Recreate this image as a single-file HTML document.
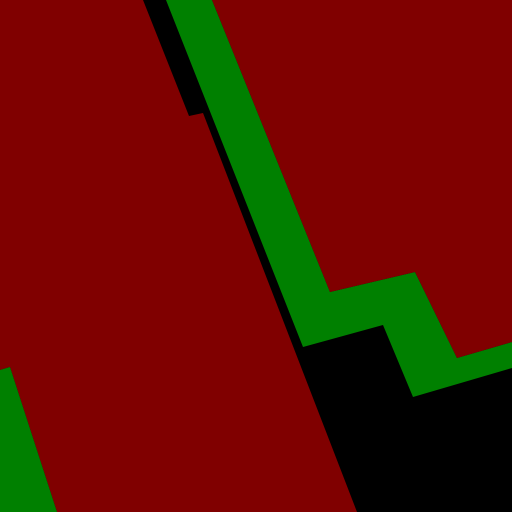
<!DOCTYPE html>
<html>
<head>
<meta charset="utf-8">
<style>
html,body{margin:0;padding:0;background:#000;width:512px;height:512px;overflow:hidden}
svg{display:block}
</style>
</head>
<body>
<svg width="512" height="512" viewBox="0 0 512 512" xmlns="http://www.w3.org/2000/svg">
  <rect x="0" y="0" width="512" height="512" fill="#000000"/>
  <polygon fill="#800000"
    points="0,0 143,0 189,116 203,113 357,512 57,512 10,367 0,370"/>
  <polygon fill="#008000"
    points="0,370 10,367 57,512 0,512"/>
  <polygon fill="#008000"
    points="166,0 212,0 330,292 415,272 457,358 512,342 512,368 413,397 383,325 303,347"/>
  <polygon fill="#800000"
    points="212,0 512,0 512,342 457,358 415,272 330,292"/>
</svg>
</body>
</html>
